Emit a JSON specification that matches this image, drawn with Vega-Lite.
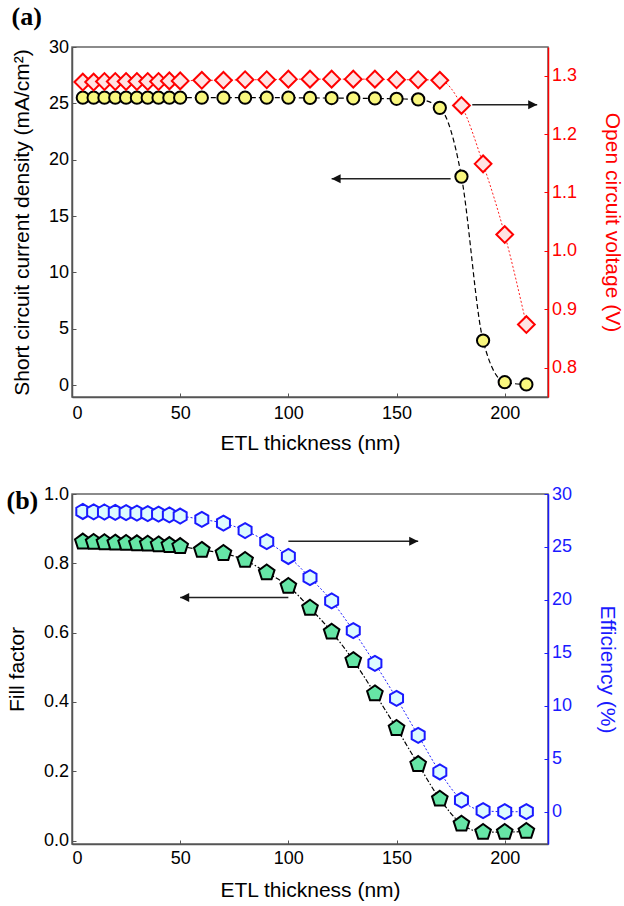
{
  "$schema": "https://vega.github.io/schema/vega-lite/v6.json",
  "background": "white",
  "padding": {"left": 5, "top": 3, "right": 2, "bottom": 2},
  "spacing": 30,
  "datasets": {
    "a": [
      {"t": 5, "jsc": 25.5, "voc": 1.289},
      {"t": 10, "jsc": 25.5, "voc": 1.289},
      {"t": 15, "jsc": 25.5, "voc": 1.29},
      {"t": 20, "jsc": 25.5, "voc": 1.29},
      {"t": 25, "jsc": 25.5, "voc": 1.29},
      {"t": 30, "jsc": 25.5, "voc": 1.29},
      {"t": 35, "jsc": 25.5, "voc": 1.29},
      {"t": 40, "jsc": 25.5, "voc": 1.29},
      {"t": 45, "jsc": 25.5, "voc": 1.291},
      {"t": 50, "jsc": 25.5, "voc": 1.291},
      {"t": 60, "jsc": 25.5, "voc": 1.292},
      {"t": 70, "jsc": 25.5, "voc": 1.292},
      {"t": 80, "jsc": 25.5, "voc": 1.293},
      {"t": 90, "jsc": 25.5, "voc": 1.293},
      {"t": 100, "jsc": 25.5, "voc": 1.294},
      {"t": 110, "jsc": 25.48, "voc": 1.294},
      {"t": 120, "jsc": 25.47, "voc": 1.294},
      {"t": 130, "jsc": 25.45, "voc": 1.294},
      {"t": 140, "jsc": 25.43, "voc": 1.294},
      {"t": 150, "jsc": 25.4, "voc": 1.293},
      {"t": 160, "jsc": 25.35, "voc": 1.293},
      {"t": 170, "jsc": 24.6, "voc": 1.292},
      {"t": 180, "jsc": 18.5, "voc": 1.249},
      {"t": 190, "jsc": 3.95, "voc": 1.149},
      {"t": 200, "jsc": 0.25, "voc": 1.028},
      {"t": 210, "jsc": 0.05, "voc": 0.874}
    ],
    "b": [
      {"t": 5, "ff": 0.862, "eff": 28.35},
      {"t": 10, "ff": 0.861, "eff": 28.32},
      {"t": 15, "ff": 0.86, "eff": 28.3},
      {"t": 20, "ff": 0.859, "eff": 28.27},
      {"t": 25, "ff": 0.858, "eff": 28.24},
      {"t": 30, "ff": 0.857, "eff": 28.2},
      {"t": 35, "ff": 0.856, "eff": 28.15},
      {"t": 40, "ff": 0.854, "eff": 28.1},
      {"t": 45, "ff": 0.852, "eff": 28.02},
      {"t": 50, "ff": 0.849, "eff": 27.92},
      {"t": 60, "ff": 0.838, "eff": 27.6},
      {"t": 70, "ff": 0.829, "eff": 27.25},
      {"t": 80, "ff": 0.809, "eff": 26.55},
      {"t": 90, "ff": 0.773, "eff": 25.5},
      {"t": 100, "ff": 0.734, "eff": 24.1},
      {"t": 110, "ff": 0.671, "eff": 22.1},
      {"t": 120, "ff": 0.602, "eff": 19.9},
      {"t": 130, "ff": 0.52, "eff": 17.1},
      {"t": 140, "ff": 0.424, "eff": 14.0},
      {"t": 150, "ff": 0.324, "eff": 10.7},
      {"t": 160, "ff": 0.22, "eff": 7.2},
      {"t": 170, "ff": 0.12, "eff": 3.75},
      {"t": 180, "ff": 0.048, "eff": 1.1},
      {"t": 190, "ff": 0.024, "eff": 0.1},
      {"t": 200, "ff": 0.024, "eff": 0.0},
      {"t": 210, "ff": 0.027, "eff": 0.0}
    ],
    "arrowsA": [
      {"side": "left", "x1": 175, "x2": 120, "y": 18.3},
      {"side": "right", "x1": 185, "x2": 215, "y": 1.25}
    ],
    "arrowsB": [
      {"side": "right", "x1": 100, "x2": 160, "y": 25.55},
      {"side": "left", "x1": 100, "x2": 50, "y": 0.701}
    ]
  },
  "config": {
    "font": "Liberation Sans",
    "view": {"stroke": "#666666", "strokeWidth": 1.5},
    "axis": {
      "grid": false,
      "labelFont": "Liberation Sans",
      "labelFontSize": 18,
      "titleFont": "Liberation Sans",
      "titleFontSize": 21,
      "titleFontWeight": "normal",
      "domainColor": "#555555",
      "domainWidth": 1.5,
      "tickColor": "#555555",
      "tickSize": -4,
      "tickWidth": 1,
      "labelColor": "black",
      "titleColor": "black"
    },
    "title": {"font": "Liberation Serif", "fontWeight": "bold", "fontSize": 26, "anchor": "start", "frame": "bounds", "color": "black"}
  },
  "vconcat": [
    {
      "width": 476,
      "height": 350,
      "title": {"text": "(a)", "offset": 8},
      "resolve": {"scale": {"y": "independent"}},
      "layer": [
        {
          "layer": [
            {
              "data": {"name": "a"},
              "mark": {"type": "line", "interpolate": "monotone", "color": "black", "strokeDash": [5, 3], "strokeWidth": 1.2},
              "encoding": {
                "x": {"field": "t", "type": "quantitative", "title": "ETL thickness (nm)", "scale": {"domain": [0, 220], "nice": false, "zero": false}, "axis": {"values": [0, 50, 100, 150, 200], "labelPadding": 11, "titlePadding": 10}},
                "y": {"field": "jsc", "type": "quantitative", "title": "Short circuit current density (mA/cm²)", "scale": {"domain": [-1.06, 30], "nice": false, "zero": false}, "axis": {"values": [0, 5, 10, 15, 20, 25, 30], "labelPadding": 7.5, "titlePadding": 16}}
              }
            },
            {
              "data": {"name": "a"},
              "mark": {"type": "point", "shape": "circle", "filled": true, "fill": "#f9f77e", "stroke": "black", "strokeWidth": 2, "size": 150, "opacity": 1},
              "encoding": {
                "x": {"field": "t", "type": "quantitative", "title": "ETL thickness (nm)", "scale": {"domain": [0, 220], "nice": false, "zero": false}},
                "y": {"field": "jsc", "type": "quantitative", "title": "Short circuit current density (mA/cm²)", "scale": {"domain": [-1.06, 30], "nice": false, "zero": false}}
              }
            },
            {
              "data": {"name": "arrowsA"},
              "transform": [{"filter": "datum.side == 'left'"}],
              "mark": {"type": "rule", "color": "#222222", "strokeWidth": 1.5},
              "encoding": {
                "x": {"field": "x1", "type": "quantitative", "title": "ETL thickness (nm)", "scale": {"domain": [0, 220], "nice": false, "zero": false}},
                "x2": {"field": "x2"},
                "y": {"field": "y", "type": "quantitative", "title": "Short circuit current density (mA/cm²)", "scale": {"domain": [-1.06, 30], "nice": false, "zero": false}}
              }
            },
            {
              "data": {"name": "arrowsA"},
              "transform": [{"filter": "datum.side == 'left'"}],
              "mark": {"type": "point", "shape": "M0,0L1,-0.5L1,0.5Z", "filled": true, "color": "#111111", "size": 324, "opacity": 1},
              "encoding": {
                "x": {"field": "x2", "type": "quantitative", "title": "ETL thickness (nm)", "scale": {"domain": [0, 220], "nice": false, "zero": false}},
                "y": {"field": "y", "type": "quantitative", "title": "Short circuit current density (mA/cm²)", "scale": {"domain": [-1.06, 30], "nice": false, "zero": false}}
              }
            }
          ]
        },
        {
          "layer": [
            {
              "data": {"name": "a"},
              "mark": {"type": "line", "interpolate": "monotone", "color": "#ff2020", "strokeDash": [2, 2], "strokeWidth": 1},
              "encoding": {
                "x": {"field": "t", "type": "quantitative", "title": "ETL thickness (nm)", "scale": {"domain": [0, 220], "nice": false, "zero": false}},
                "y": {"field": "voc", "type": "quantitative", "title": "Open circuit voltage (V)", "scale": {"domain": [0.75, 1.349], "nice": false, "zero": false}, "axis": {"orient": "right", "values": [0.8, 0.9, 1.0, 1.1, 1.2, 1.3], "format": ".1f", "labelPadding": 7.5, "titlePadding": 25, "domainColor": "#ff0000", "tickColor": "#ff0000", "labelColor": "#ff0000", "titleColor": "#ff0000"}}
              }
            },
            {
              "data": {"name": "a"},
              "mark": {"type": "point", "shape": "diamond", "filled": true, "fill": "#ffe4e4", "stroke": "#ff0000", "strokeWidth": 2, "size": 280, "opacity": 1},
              "encoding": {
                "x": {"field": "t", "type": "quantitative", "title": "ETL thickness (nm)", "scale": {"domain": [0, 220], "nice": false, "zero": false}},
                "y": {"field": "voc", "type": "quantitative", "title": "Open circuit voltage (V)", "scale": {"domain": [0.75, 1.349], "nice": false, "zero": false}}
              }
            },
            {
              "data": {"name": "arrowsA"},
              "transform": [{"filter": "datum.side == 'right'"}],
              "mark": {"type": "rule", "color": "#222222", "strokeWidth": 1.5},
              "encoding": {
                "x": {"field": "x1", "type": "quantitative", "title": "ETL thickness (nm)", "scale": {"domain": [0, 220], "nice": false, "zero": false}},
                "x2": {"field": "x2"},
                "y": {"field": "y", "type": "quantitative", "title": "Open circuit voltage (V)", "scale": {"domain": [0.75, 1.349], "nice": false, "zero": false}}
              }
            },
            {
              "data": {"name": "arrowsA"},
              "transform": [{"filter": "datum.side == 'right'"}],
              "mark": {"type": "point", "shape": "M0,0L-1,-0.5L-1,0.5Z", "filled": true, "color": "#111111", "size": 324, "opacity": 1},
              "encoding": {
                "x": {"field": "x2", "type": "quantitative", "title": "ETL thickness (nm)", "scale": {"domain": [0, 220], "nice": false, "zero": false}},
                "y": {"field": "y", "type": "quantitative", "title": "Open circuit voltage (V)", "scale": {"domain": [0.75, 1.349], "nice": false, "zero": false}}
              }
            }
          ]
        }
      ]
    },
    {
      "width": 476,
      "height": 350,
      "title": {"text": "(b)", "offset": 8, "dy": 37},
      "resolve": {"scale": {"y": "independent"}},
      "layer": [
        {
          "layer": [
            {
              "data": {"name": "b"},
              "mark": {"type": "line", "interpolate": "monotone", "color": "black", "strokeDash": [5, 2, 1.5, 2], "strokeWidth": 1.2},
              "encoding": {
                "x": {"field": "t", "type": "quantitative", "title": "ETL thickness (nm)", "scale": {"domain": [0, 220], "nice": false, "zero": false}, "axis": {"values": [0, 50, 100, 150, 200], "labelPadding": 9, "titlePadding": 12}},
                "y": {"field": "ff", "type": "quantitative", "title": "Fill factor", "scale": {"domain": [-0.01, 1.0], "nice": false, "zero": false}, "axis": {"values": [0, 0.2, 0.4, 0.6, 0.8, 1.0], "format": ".1f", "labelPadding": 7.5, "titlePadding": 16}}
              }
            },
            {
              "data": {"name": "b"},
              "mark": {"type": "point", "shape": "M0,-1L0.951,-0.309L0.588,0.809L-0.588,0.809L-0.951,-0.309Z", "filled": true, "fill": "#66e6a6", "stroke": "black", "strokeWidth": 2, "size": 270, "opacity": 1},
              "encoding": {
                "x": {"field": "t", "type": "quantitative", "title": "ETL thickness (nm)", "scale": {"domain": [0, 220], "nice": false, "zero": false}},
                "y": {"field": "ff", "type": "quantitative", "title": "Fill factor", "scale": {"domain": [-0.01, 1.0], "nice": false, "zero": false}}
              }
            },
            {
              "data": {"name": "arrowsB"},
              "transform": [{"filter": "datum.side == 'left'"}],
              "mark": {"type": "rule", "color": "#222222", "strokeWidth": 1.5},
              "encoding": {
                "x": {"field": "x1", "type": "quantitative", "title": "ETL thickness (nm)", "scale": {"domain": [0, 220], "nice": false, "zero": false}},
                "x2": {"field": "x2"},
                "y": {"field": "y", "type": "quantitative", "title": "Fill factor", "scale": {"domain": [-0.01, 1.0], "nice": false, "zero": false}}
              }
            },
            {
              "data": {"name": "arrowsB"},
              "transform": [{"filter": "datum.side == 'left'"}],
              "mark": {"type": "point", "shape": "M0,0L1,-0.5L1,0.5Z", "filled": true, "color": "#111111", "size": 324, "opacity": 1},
              "encoding": {
                "x": {"field": "x2", "type": "quantitative", "title": "ETL thickness (nm)", "scale": {"domain": [0, 220], "nice": false, "zero": false}},
                "y": {"field": "y", "type": "quantitative", "title": "Fill factor", "scale": {"domain": [-0.01, 1.0], "nice": false, "zero": false}}
              }
            }
          ]
        },
        {
          "layer": [
            {
              "data": {"name": "b"},
              "mark": {"type": "line", "interpolate": "monotone", "color": "#2020ff", "strokeDash": [2, 2], "strokeWidth": 1},
              "encoding": {
                "x": {"field": "t", "type": "quantitative", "title": "ETL thickness (nm)", "scale": {"domain": [0, 220], "nice": false, "zero": false}},
                "y": {"field": "eff", "type": "quantitative", "title": "Efficiency (%)", "scale": {"domain": [-3.05, 30], "nice": false, "zero": false}, "axis": {"orient": "right", "values": [0, 5, 10, 15, 20, 25, 30], "labelPadding": 7.5, "titlePadding": 25, "domainColor": "#1a1aff", "tickColor": "#1a1aff", "labelColor": "#1a1aff", "titleColor": "#1a1aff"}}
              }
            },
            {
              "data": {"name": "b"},
              "mark": {"type": "point", "shape": "M0,-1L0.866,-0.5L0.866,0.5L0,1L-0.866,0.5L-0.866,-0.5Z", "filled": true, "fill": "#ddfbff", "stroke": "#1a1aff", "strokeWidth": 2, "size": 225, "opacity": 1},
              "encoding": {
                "x": {"field": "t", "type": "quantitative", "title": "ETL thickness (nm)", "scale": {"domain": [0, 220], "nice": false, "zero": false}},
                "y": {"field": "eff", "type": "quantitative", "title": "Efficiency (%)", "scale": {"domain": [-3.05, 30], "nice": false, "zero": false}}
              }
            },
            {
              "data": {"name": "arrowsB"},
              "transform": [{"filter": "datum.side == 'right'"}],
              "mark": {"type": "rule", "color": "#222222", "strokeWidth": 1.5},
              "encoding": {
                "x": {"field": "x1", "type": "quantitative", "title": "ETL thickness (nm)", "scale": {"domain": [0, 220], "nice": false, "zero": false}},
                "x2": {"field": "x2"},
                "y": {"field": "y", "type": "quantitative", "title": "Efficiency (%)", "scale": {"domain": [-3.05, 30], "nice": false, "zero": false}}
              }
            },
            {
              "data": {"name": "arrowsB"},
              "transform": [{"filter": "datum.side == 'right'"}],
              "mark": {"type": "point", "shape": "M0,0L-1,-0.5L-1,0.5Z", "filled": true, "color": "#111111", "size": 324, "opacity": 1},
              "encoding": {
                "x": {"field": "x2", "type": "quantitative", "title": "ETL thickness (nm)", "scale": {"domain": [0, 220], "nice": false, "zero": false}},
                "y": {"field": "y", "type": "quantitative", "title": "Efficiency (%)", "scale": {"domain": [-3.05, 30], "nice": false, "zero": false}}
              }
            }
          ]
        }
      ]
    }
  ]
}
